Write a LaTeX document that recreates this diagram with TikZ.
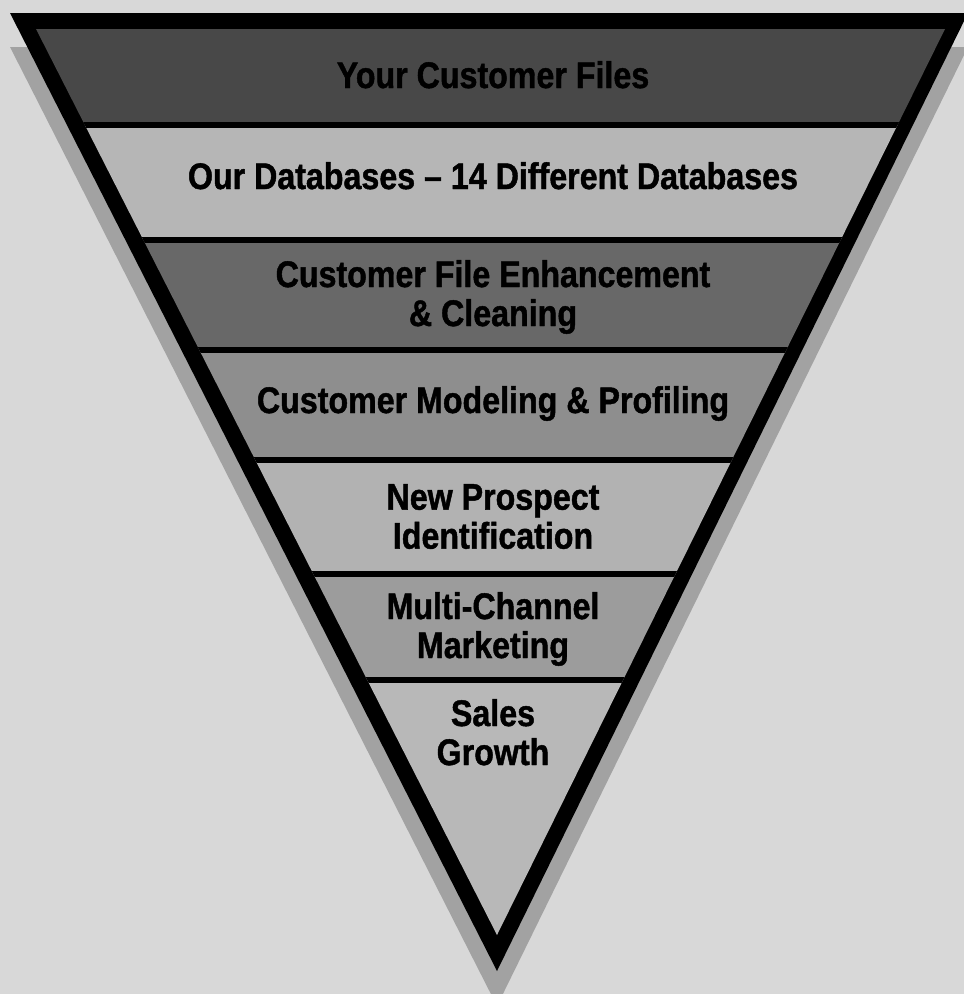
\documentclass[tikz,border=0pt]{standalone}
\usepackage{fontspec}
\newfontfamily\bandfont{Liberation Sans}[FakeStretch=0.87, FakeBold=1.2, Ligatures=TeX]
\definecolor{paper}{HTML}{D8D8D8}
\definecolor{dropshade}{HTML}{A2A2A2}
\definecolor{bandA}{HTML}{484848}
\definecolor{bandB}{HTML}{B6B6B6}
\definecolor{bandC}{HTML}{686868}
\definecolor{bandD}{HTML}{8E8E8E}
\definecolor{bandE}{HTML}{B2B2B2}
\definecolor{bandF}{HTML}{9C9C9C}
\definecolor{bandG}{HTML}{B8B8B8}
\begin{document}
\begin{tikzpicture}[x=1pt,y=-1pt,
  bandtext/.style={font=\bandfont\bfseries\fontsize{37}{39}\selectfont,
    align=center, inner sep=0pt, anchor=north, text=black},
  divider/.style={line width=6pt, black}]
\useasboundingbox (0,0) rectangle (964,994);
\clip (0,0) rectangle (964,994);
\fill[paper] (0,0) rectangle (964,994);

% drop shadow behind the funnel
\fill[dropshade] (10,47) -- (968,47) -- (497,1006) -- cycle;

% black frame of the funnel
\fill[black] (10,13) -- (968,13) -- (497,971) -- cycle;

% coloured bands inside the frame
\begin{scope}
  \clip (36,29) -- (945,29) -- (497,935) -- cycle;
  \fill[bandA] (0,29)  rectangle (964,125);
  \fill[bandB] (0,125) rectangle (964,240);
  \fill[bandC] (0,240) rectangle (964,350);
  \fill[bandD] (0,350) rectangle (964,460);
  \fill[bandE] (0,460) rectangle (964,574);
  \fill[bandF] (0,574) rectangle (964,680);
  \fill[bandG] (0,680) rectangle (964,940);
  \draw[divider] (0,125) -- (964,125);
  \draw[divider] (0,240) -- (964,240);
  \draw[divider] (0,350) -- (964,350);
  \draw[divider] (0,460) -- (964,460);
  \draw[divider] (0,574) -- (964,574);
  \draw[divider] (0,680) -- (964,680);
\end{scope}

% band labels
\node[bandtext] (files)    at (493,61)  {Your Customer Files};
\node[bandtext] (dbs)      at (493,162) {Our Databases – 14 Different Databases};
\node[bandtext] (enhance)  at (493,260) {Customer File Enhancement\\\& Cleaning};
\node[bandtext] (model)    at (493,386) {Customer Modeling \& Profiling};
\node[bandtext] (prospect) at (493,484) {New Prospect\\Identification};
\node[bandtext] (channel)  at (493,592) {Multi-Channel\\Marketing};
\node[bandtext] (growth)   at (493,699) {Sales\\Growth};
\end{tikzpicture}
\end{document}
